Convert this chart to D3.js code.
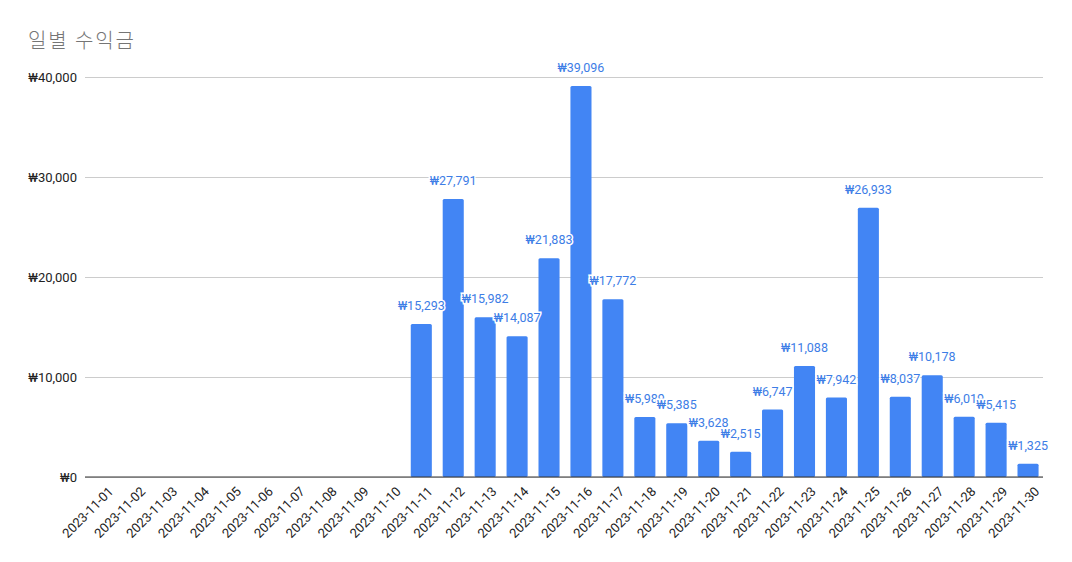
<!DOCTYPE html>
<html lang="ko">
  <head>
    <meta charset="utf-8">
    <title>일별 수익금</title>
    <script type="text/javascript" src="https://cdn.jsdelivr.net/npm/d3@7/dist/d3.min.js"></script>
    <style>
    body { margin: 0; background: #fff; }
    #chart { width: 1072px; height: 562px; }
    text { font-family: Roboto, "Noto Sans CJK KR", sans-serif; }
    </style>
  </head>
  <body>
    <div id="chart"></div>
    <script type="text/javascript">

      // data
      var days = [
        '2023-11-01', '2023-11-02', '2023-11-03', '2023-11-04', '2023-11-05',
        '2023-11-06', '2023-11-07', '2023-11-08', '2023-11-09', '2023-11-10',
        '2023-11-11', '2023-11-12', '2023-11-13', '2023-11-14', '2023-11-15',
        '2023-11-16', '2023-11-17', '2023-11-18', '2023-11-19', '2023-11-20',
        '2023-11-21', '2023-11-22', '2023-11-23', '2023-11-24', '2023-11-25',
        '2023-11-26', '2023-11-27', '2023-11-28', '2023-11-29', '2023-11-30'
      ];
      var revenue = [
        0, 0, 0, 0, 0, 0, 0, 0, 0, 0,
        15293, 27791, 15982, 14087, 21883, 39096, 17772, 5989, 5385, 3628,
        2515, 6747, 11088, 7942, 26933, 8037, 10178, 6019, 5415, 1325
      ];
      var yTicks = [0, 10000, 20000, 30000, 40000];

      var W = 1072, H = 562;
      var m = { left: 85, right: 29, top: 77, bottom: 85 };
      var innerW = W - m.left - m.right;
      var innerH = H - m.top - m.bottom;

      var won = function(v) { return '₩' + d3.format(',')(v); };

      var svg = d3.select('#chart')
        .append('svg')
          .attr('width', W)
          .attr('height', H);

      // title
      svg.append('text')
        .attr('x', 28)
        .attr('y', 48)
        .attr('font-size', 20)
        .attr('font-weight', 300)
        .attr('letter-spacing', 1.8)
        .attr('font-family', '"Noto Sans CJK KR", sans-serif')
        .attr('fill', '#757575')
        .text('일별 수익금');

      var g = svg.append('g')
        .attr('transform', 'translate(' + m.left + ',' + m.top + ')');

      var x = d3.scaleBand()
        .domain(days)
        .range([0, innerW])
        .paddingInner(0.34)
        .paddingOuter(0.17);

      var y = d3.scaleLinear()
        .domain([0, 40000])
        .range([innerH, 0]);

      // gridlines + y labels
      var yAxis = d3.axisLeft(y)
        .tickValues(yTicks)
        .tickSize(-innerW)
        .tickPadding(8)
        .tickFormat(won);

      g.append('g')
        .call(yAxis)
        .call(function(a) {
          a.select('.domain').remove();
          a.selectAll('.tick line').attr('stroke', '#cccccc');
          a.selectAll('.tick text')
            .attr('font-size', 13)
            .attr('fill', '#222');
        });

      // bars
      var barData = revenue.map(function(v, i) { return { day: days[i], v: v }; })
        .filter(function(d) { return d.v > 0; });

      g.selectAll('.bar')
        .data(barData)
        .enter()
        .append('rect')
          .attr('class', 'bar')
          .attr('x', function(d) { return x(d.day) + 1; })
          .attr('y', function(d) { return y(d.v); })
          .attr('width', x.bandwidth())
          .attr('height', function(d) { return innerH - y(d.v); })
          .attr('rx', 1.5)
          .attr('fill', '#4285f4');

      // value labels (overlaps kept as in the original)
      g.selectAll('.val')
        .data(barData)
        .enter()
        .append('text')
          .attr('class', 'val')
          .attr('x', function(d) { return x(d.day) + 1 + x.bandwidth() / 2; })
          .attr('y', function(d) { return y(d.v) - 14; })
          .attr('text-anchor', 'middle')
          .attr('font-size', 12.5)
          .attr('fill', '#3d7de6')
          .attr('stroke', '#fff')
          .attr('stroke-width', 3)
          .attr('paint-order', 'stroke')
          .text(function(d) { return won(d.v); });

      // x axis
      var xAxis = d3.axisBottom(x).tickSize(0).tickPadding(0);
      g.append('g')
        .attr('transform', 'translate(0,' + innerH + ')')
        .call(xAxis)
        .call(function(a) {
          a.select('.domain')
            .attr('stroke', '#333')
            .attr('d', 'M0,0H' + innerW);
          a.selectAll('.tick text')
            .attr('font-size', 13)
            .attr('fill', '#222')
            .attr('text-anchor', 'end')
            .attr('x', 0)
            .attr('y', 0)
            .attr('dy', '0.35em')
            .attr('transform', 'translate(10,12) rotate(-45)');
        });

    </script>
  </body>
</html>
